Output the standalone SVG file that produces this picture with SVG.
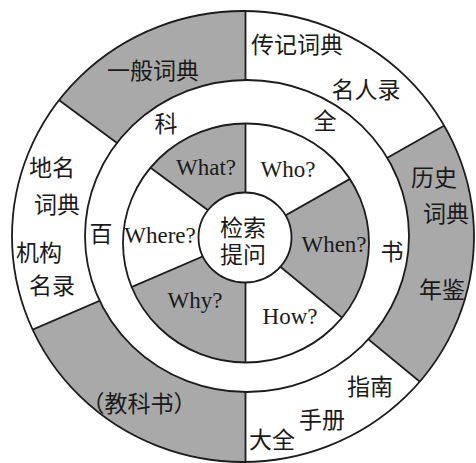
<svg xmlns="http://www.w3.org/2000/svg" width="476" height="463" viewBox="0 0 476 463">
<style>
.ln{fill:none;stroke:#1c1c1c;stroke-width:1.8}
.wf{fill:#fff;stroke:#1c1c1c;stroke-width:1.8}
.g{fill:#a9a9a9}
.sp{stroke:#1c1c1c;stroke-width:1.8}
.zh{font-family:"Noto Sans CJK SC",sans-serif;font-size:23px;fill:#1a1a1a;text-anchor:middle;dominant-baseline:central}
.en{font-family:"Liberation Serif",serif;font-size:23px;fill:#1a1a1a;text-anchor:middle}
</style>
<defs>
<clipPath id="cOuter"><ellipse cx="243" cy="236.5" rx="231" ry="225.5"/></clipPath>
<clipPath id="cInner"><ellipse cx="246" cy="243" rx="123" ry="119.5"/></clipPath>
</defs>
<rect width="476" height="463" fill="#fff"/>
<g id="outer-ring">
  <g clip-path="url(#cOuter)">
    <polygon id="sec-general-dict" class="g" points="245.5,238 245.5,-162 -76.1,0.1"/>
    <polygon id="sec-history" class="g" points="245.5,238 554.1,492.4 593.7,41"/>
    <polygon id="sec-textbook" class="g" points="245.5,238 -121.9,396.2 245.5,638"/>
    <g id="outer-spokes" class="sp">
      <line x1="245.5" y1="238" x2="245.5" y2="-162"/>
      <line x1="245.5" y1="238" x2="593.7" y2="41"/>
      <line x1="245.5" y1="238" x2="554.1" y2="492.4"/>
      <line x1="245.5" y1="238" x2="245.5" y2="638"/>
      <line x1="245.5" y1="238" x2="-121.9" y2="396.2"/>
      <line x1="245.5" y1="238" x2="-76.1" y2="0.1"/>
    </g>
  </g>
  <ellipse class="ln" cx="243" cy="236.5" rx="231" ry="225.5"/>
</g>
<g id="middle-ring">
  <ellipse class="wf" cx="247" cy="236" rx="162" ry="156"/>
</g>
<g id="inner-ring">
  <ellipse fill="#fff" cx="246" cy="243" rx="123" ry="119.5"/>
  <g clip-path="url(#cInner)">
    <polygon id="sec-what" class="g" points="245.5,238 245.5,-162 -76.1,0.1"/>
    <polygon id="sec-when" class="g" points="245.5,238 554.1,492.4 593.7,41"/>
    <polygon id="sec-why" class="g" points="245.5,238 -121.9,396.2 245.5,638"/>
    <g id="inner-spokes" class="sp">
      <line x1="245.5" y1="238" x2="245.5" y2="-162"/>
      <line x1="245.5" y1="238" x2="593.7" y2="41"/>
      <line x1="245.5" y1="238" x2="554.1" y2="492.4"/>
      <line x1="245.5" y1="238" x2="245.5" y2="638"/>
      <line x1="245.5" y1="238" x2="-121.9" y2="396.2"/>
      <line x1="245.5" y1="238" x2="-76.1" y2="0.1"/>
    </g>
  </g>
  <ellipse class="ln" cx="246" cy="243" rx="123" ry="119.5"/>
</g>
<g id="center">
  <ellipse class="wf" cx="245" cy="237.5" rx="46.5" ry="45"/>
  <text class="zh" x="243" y="226">检索<tspan x="243" dy="27">提问</tspan></text>
</g>
<g id="outer-labels">
  <text class="zh" x="153" y="69">一般词典</text>
  <text class="zh" x="297" y="43">传记词典</text>
  <text class="zh" x="366" y="88">名人录</text>
  <text class="zh" x="434" y="176">历史</text>
  <text class="zh" x="446" y="212">词典</text>
  <text class="zh" x="442" y="288">年鉴</text>
  <text class="zh" x="370" y="385">指南</text>
  <text class="zh" x="322" y="418">手册</text>
  <text class="zh" x="272" y="438">大全</text>
  <text class="zh" x="139" y="402">（教科书）</text>
  <text class="zh" x="52" y="166">地名</text>
  <text class="zh" x="57" y="203">词典</text>
  <text class="zh" x="39" y="251">机构</text>
  <text class="zh" x="52" y="284">名录</text>
</g>
<g id="middle-labels">
  <text class="zh" x="166" y="122">科</text>
  <text class="zh" x="325" y="119">全</text>
  <text class="zh" x="101" y="232">百</text>
  <text class="zh" x="392" y="250">书</text>
</g>
<g id="inner-labels">
  <text class="en" x="206" y="175">What?</text>
  <text class="en" x="288" y="177">Who?</text>
  <text class="en" x="160" y="243">Where?</text>
  <text class="en" x="334" y="252">When?</text>
  <text class="en" x="195" y="308">Why?</text>
  <text class="en" x="290" y="324">How?</text>
</g>
</svg>
